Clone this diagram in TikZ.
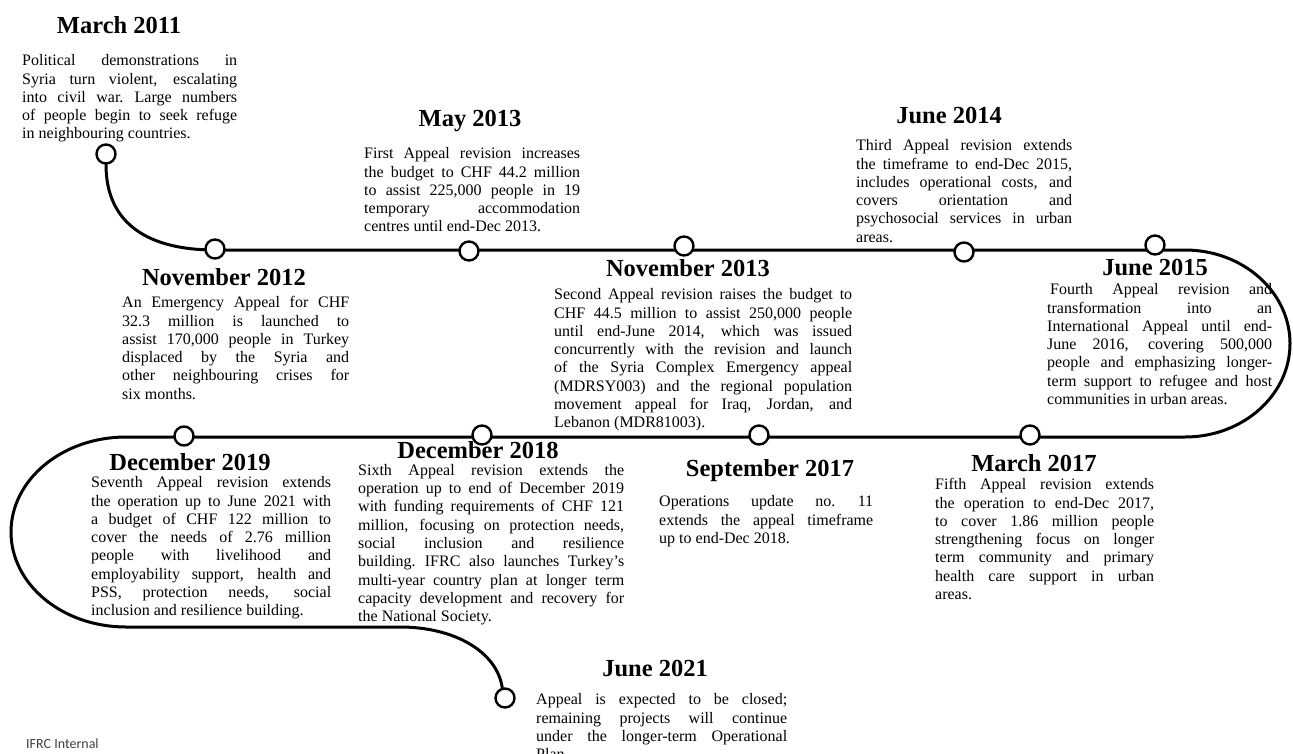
\documentclass[tikz,border=0pt]{standalone}
\usepackage{fontspec}
\setmainfont{Liberation Serif}
\newfontfamily\ifrcfont{Carlito}
\usetikzlibrary{backgrounds}
\newlength\bw
\newcommand\jl[1]{\hbox to \bw{\spaceskip=0.25em plus 1fill\relax\xspaceskip=0.3em plus 1fill\relax #1}}
\newcommand\fl[1]{\hbox to \bw{\spaceskip=0.25em plus 1fill\relax\xspaceskip=0.3em plus 1fill\relax\rule{0pt}{12pt}#1}}
\newcommand\lastl[1]{\hbox to \bw{#1\hfil}}
\begin{document}
\begin{tikzpicture}[x=1pt,y=-1pt,
  spine/.style={line width=3pt, draw=black, line cap=round},
  dot/.style={circle, draw=black, line width=2.4pt, fill=white, minimum size=19pt, inner sep=0pt},
  ttl/.style={font=\fontsize{24.5}{28}\selectfont\bfseries, anchor=base, inner sep=0pt},
  txt/.style={font=\fontsize{16}{18.3}\selectfont, anchor=north west, inner sep=0pt}]
\useasboundingbox (0,0) rectangle (1293,753);

% circles
\node[dot] (m11) at (106,154) {};
\node[dot] (n12) at (215,249) {};
\node[dot] (y13) at (469,251) {};
\node[dot] (n13) at (684,246) {};
\node[dot] (j14) at (964,252) {};
\node[dot] (j15) at (1155,245) {};
\node[dot] (m17) at (1030,435) {};
\node[dot] (s17) at (759,435) {};
\node[dot] (d18) at (482,435) {};
\node[dot] (d19) at (184,436) {};
\node[dot] (j21) at (505,698) {};

% spine coordinates
\coordinate (t0) at (215,250);
\coordinate (t1) at (1185,250);
\coordinate (r0) at (1290,343.5);
\coordinate (b1) at (1185,437);
\coordinate (b0) at (126,437);
\coordinate (l0) at (11,532);
\coordinate (u0) at (126,627);
\coordinate (u1) at (400,627);

\begin{scope}[on background layer]
\draw[spine] (m11.south) .. controls (106,225) and (150,250) .. (t0) -- (t1)
  .. controls (1243,250) and (1290,291.9) .. (r0)
  .. controls (1290,395.1) and (1243,437) .. (b1) -- (b0)
  .. controls (62.5,437) and (11,479.5) .. (l0)
  .. controls (11,584.5) and (62.5,627) .. (u0) -- (u1)
  .. controls (455,627) and (497,652) .. (j21.105);
\end{scope}

% March 2011
\node[ttl] (tm11) at (119,33) {March 2011};
\node[txt] (xm11) at (22,53.5) {\setlength\bw{215pt}\vbox{\baselineskip=18.3pt
\fl{Political demonstrations in}
\jl{Syria turn violent, escalating}
\jl{into civil war. Large numbers}
\jl{of people begin to seek refuge}
\lastl{in neighbouring countries.}}};

% May 2013
\node[ttl] (ty13) at (470,126) {May 2013};
\node[txt] (xy13) at (364,146.5) {\setlength\bw{216pt}\vbox{\baselineskip=18.3pt
\fl{First Appeal revision increases}
\jl{the budget to CHF 44.2 million}
\jl{to assist 225,000 people in 19}
\jl{temporary accommodation}
\lastl{centres until end-Dec 2013.}}};

% June 2014
\node[ttl] (tj14) at (949,123) {June 2014};
\node[txt] (xj14) at (856,138.5) {\setlength\bw{216pt}\vbox{\baselineskip=18.3pt
\fl{Third Appeal revision extends}
\jl{the timeframe to end-Dec 2015,}
\jl{includes operational costs, and}
\jl{covers orientation and}
\jl{psychosocial services in urban}
\lastl{areas.}}};

% November 2012
\node[ttl] (tn12) at (224,285) {November 2012};
\node[txt] (xn12) at (122,295.5) {\setlength\bw{227pt}\vbox{\baselineskip=18.3pt
\fl{An Emergency Appeal for CHF}
\jl{32.3 million is launched to}
\jl{assist 170,000 people in Turkey}
\jl{displaced by the Syria and}
\jl{other neighbouring crises for}
\lastl{six months.}}};

% November 2013
\node[ttl] (tn13) at (688,276) {November 2013};
\node[txt] (xn13) at (554,287.5) {\setlength\bw{298pt}\vbox{\baselineskip=18.3pt
\fl{Second Appeal revision raises the budget to}
\jl{CHF 44.5 million to assist 250,000 people}
\jl{until end-June 2014, which was issued}
\jl{concurrently with the revision and launch}
\jl{of the Syria Complex Emergency appeal}
\jl{(MDRSY003) and the regional population}
\jl{movement appeal for Iraq, Jordan, and}
\lastl{Lebanon (MDR81003).}}};

% June 2015
\node[ttl] (tj15) at (1155,275) {June 2015};
\node[txt] (xj15) at (1047,282.5) {\setlength\bw{225pt}\vbox{\baselineskip=18.3pt
\fl{\kern3pt Fourth Appeal revision and}
\jl{transformation into an}
\jl{International Appeal until end-}
\jl{June 2016, covering 500,000}
\jl{people and emphasizing longer-}
\jl{term support to refugee and host}
\lastl{communities in urban areas.}}};

% December 2019
\node[ttl] (td19) at (190,470) {December 2019};
\node[txt] (xd19) at (91,475.5) {\setlength\bw{240pt}\vbox{\baselineskip=18.3pt
\fl{Seventh Appeal revision extends}
\jl{the operation up to June 2021 with}
\jl{a budget of CHF 122 million to}
\jl{cover the needs of 2.76 million}
\jl{people with livelihood and}
\jl{employability support, health and}
\jl{PSS, protection needs, social}
\lastl{inclusion and resilience building.}}};

% December 2018
\node[ttl] (td18) at (478,458.5) {December 2018};
\node[txt] (xd18) at (358,463) {\setlength\bw{266pt}\vbox{\baselineskip=18.3pt
\fl{Sixth Appeal revision extends the}
\jl{operation up to end of December 2019}
\jl{with funding requirements of CHF 121}
\jl{million, focusing on protection needs,}
\jl{social inclusion and resilience}
\jl{building. IFRC also launches Turkey’s}
\jl{multi-year country plan at longer term}
\jl{capacity development and recovery for}
\lastl{the National Society.}}};

% September 2017
\node[ttl] (ts17) at (770,476) {September 2017};
\node[txt] (xs17) at (659,494.5) {\setlength\bw{214pt}\vbox{\baselineskip=18.3pt
\fl{Operations update no. 11}
\jl{extends the appeal timeframe}
\lastl{up to end-Dec 2018.}}};

% March 2017
\node[ttl] (tm17) at (1034,471) {March 2017};
\node[txt] (xm17) at (935,477.5) {\setlength\bw{219pt}\vbox{\baselineskip=18.3pt
\fl{Fifth Appeal revision extends}
\jl{the operation to end-Dec 2017,}
\jl{to cover 1.86 million people}
\jl{strengthening focus on longer}
\jl{term community and primary}
\jl{health care support in urban}
\lastl{areas.}}};

% June 2021
\node[ttl] (tj21) at (655,676) {June 2021};
\node[txt] (xj21) at (536,692.5) {\setlength\bw{251pt}\vbox{\baselineskip=18.3pt
\fl{Appeal is expected to be closed;}
\jl{remaining projects will continue}
\jl{under the longer-term Operational}
\lastl{Plan.}}};

\node[font=\ifrcfont\fontsize{14}{16}\selectfont, text=black!75, anchor=base west, inner sep=0pt] (ifrc) at (26,748) {IFRC Internal};
\end{tikzpicture}
\end{document}
